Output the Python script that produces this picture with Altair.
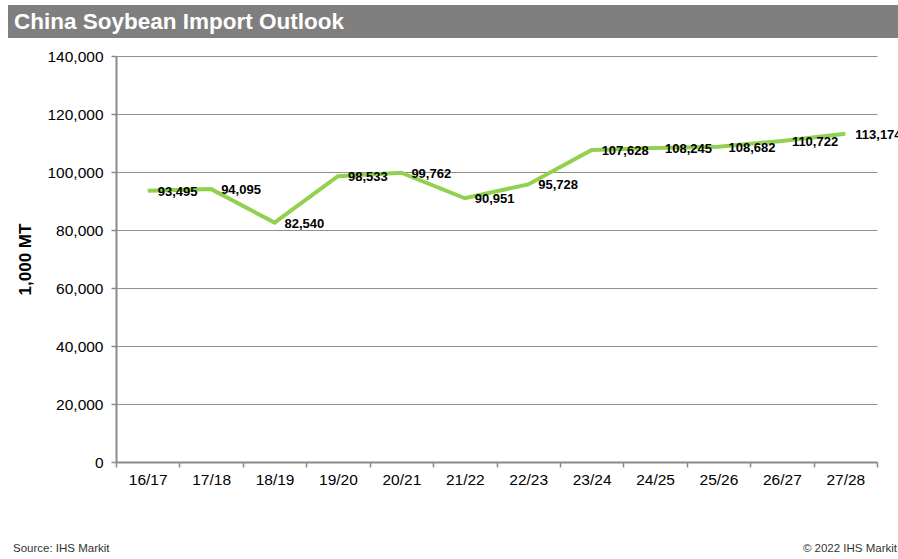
import altair as alt
import pandas as pd

years = ["16/17", "17/18", "18/19", "19/20", "20/21", "21/22", "22/23",
         "23/24", "24/25", "25/26", "26/27", "27/28"]
imports = [93495, 94095, 82540, 98533, 99762, 90951, 95728,
           107628, 108245, 108682, 110722, 113174]
labels = ["93,495", "94,095", "82,540", "98,533", "99,762", "90,951", "95,728",
          "107,628", "108,245", "108,682", "110,722", "113,174"]

title_text = "China Soybean Import Outlook"
source_text = "Source: IHS Markit"
copyright_text = "© 2022 IHS Markit"

df = pd.DataFrame({"year": years, "value": imports, "label": labels})

FONT = "Liberation Sans"
W, H = 761, 406

x = alt.X("year:N", sort=years,
          scale=alt.Scale(type="band", paddingInner=0, paddingOuter=0),
          axis=alt.Axis(title=None, tickBand="extent", grid=False,
                        domainColor="#8a8a8a", domainWidth=2,
                        tickColor="#8a8a8a", tickWidth=1.5, tickSize=5,
                        labelFont=FONT, labelFontSize=15.5, labelColor="#000000",
                        labelPadding=5, labelAngle=0))
y = alt.Y("value:Q",
          scale=alt.Scale(domain=[0, 140000], nice=False),
          axis=alt.Axis(title="1,000 MT", values=list(range(0, 140001, 20000)),
                        format=",d", grid=True, gridColor="#8f8f8f", gridWidth=1,
                        domainColor="#8a8a8a", domainWidth=2,
                        tickColor="#8a8a8a", tickWidth=1.5, tickSize=5,
                        labelFont=FONT, labelFontSize=15.5, labelColor="#000000",
                        labelPadding=8,
                        titleFont=FONT, titleFontSize=17, titleFontWeight="bold",
                        titleColor="#000000", titlePadding=12))

base = alt.Chart(df)

line = base.mark_line(color="#92D050", strokeWidth=4).encode(x=x, y=y)
text = base.mark_text(align="left", baseline="middle", dx=10, dy=1,
                      font=FONT, fontSize=13, fontWeight="bold",
                      color="#000000").encode(x=x, y=y, text="label:N")

band = alt.Chart(pd.DataFrame({"t": [title_text]})).mark_rect(
    color="#7f7f7f").encode(
    x=alt.value(-108), x2=alt.value(782), y=alt.value(-51), y2=alt.value(-18))
title = alt.Chart(pd.DataFrame({"t": [title_text]})).mark_text(
    align="left", baseline="middle", font=FONT, fontSize=22.5,
    fontWeight="bold", color="#ffffff").encode(
    x=alt.value(-102), y=alt.value(-34), text="t:N")
src = alt.Chart(pd.DataFrame({"t": [source_text]})).mark_text(
    align="left", baseline="middle", font=FONT, fontSize=11.5,
    color="#333333").encode(x=alt.value(-103), y=alt.value(493), text="t:N")
cpy = alt.Chart(pd.DataFrame({"t": [copyright_text]})).mark_text(
    align="right", baseline="middle", font=FONT, fontSize=11.5,
    color="#333333").encode(x=alt.value(781), y=alt.value(493), text="t:N")

chart = alt.layer(band, title, line, text, src, cpy).properties(
    width=W, height=H,
    autosize=alt.AutoSizeParams(type="none"),
    padding={"left": 116, "top": 56, "right": 21, "bottom": 97},
    background="#ffffff",
).configure_view(stroke=None)

chart.save("out.html", embed_options={"renderer": "svg", "actions": False})
